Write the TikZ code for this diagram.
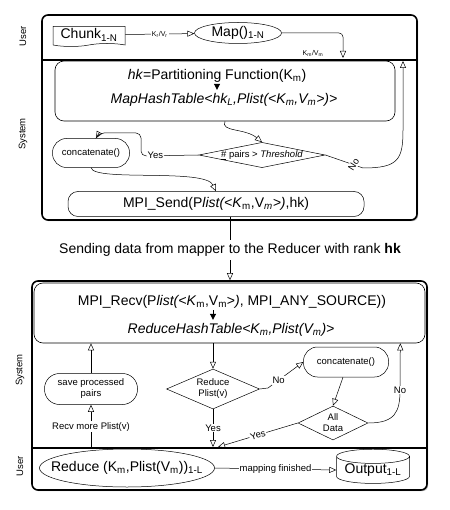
\documentclass[tikz,border=0pt]{standalone}
\usepackage{fontspec}
\setmainfont{Liberation Sans}
\usetikzlibrary{arrows.meta, positioning, shapes.geometric, shapes.symbols, shadows, calc}

\begin{document}
\begin{tikzpicture}[x=1pt, y=-1pt, line width=0.5pt,
  oa/.style={-{Triangle[open, length=7pt, width=6pt]}},
  fa/.style={-{Triangle[length=6pt, width=6pt]}},
  big/.style={font=\fontsize{14}{16}\selectfont},
  small/.style={font=\fontsize{9.5}{11}\selectfont},
  lane/.style={rotate=90, font=\fontsize{9.5}{11}\selectfont},
  lbl/.style={fill=white, inner sep=1pt, font=\fontsize{9.5}{11}\selectfont},
  tiny/.style={fill=white, inner sep=1pt, font=\fontsize{7}{8}\selectfont},
  panel/.style={draw, fill=white, line width=1.6pt, rounded corners=6pt, inner sep=0,
    drop shadow={shadow xshift=1.2pt, shadow yshift=-1.2pt, fill=black!55}},
  area/.style={draw, line width=0.6pt, rounded corners=9pt, inner sep=0},
  proc/.style={draw, rounded corners=14pt, inner sep=0, align=center, small},
  decide/.style={diamond, draw, inner sep=0, align=center, small}]
\useasboundingbox (0,0) rectangle (449,510);

% mapper side
\node[panel, minimum width=375, minimum height=205] (mapP) at (229.5,117.5) {};
\draw[line width=1.4pt] (mapP.west |- 0,60) -- (mapP.east |- 0,60);
\node[lane] (userA) at (23,36) {User};
\node[lane] (sysA) at (23,134) {System};

\node[tape, tape bend top=none, tape bend height=3pt, draw, big, inner sep=0,
  minimum width=72, minimum height=20] (chunk) at (89,35) {Chunk\textsubscript{1-N}};
\node[ellipse, draw, big, inner sep=0, minimum width=87, minimum height=21] (map) at (238,33) {Map()\textsubscript{1-N}};
\coordinate (mapout) at (343,58);
\draw[oa] (chunk) -- node[tiny]{K\textsubscript{r}/V\textsubscript{r}} (map);
\draw[oa, rounded corners=4pt] (map.east) -| (mapout);
\node[tiny, fill=none] (kmvm) at (313,53) {K\textsubscript{m}/V\textsubscript{m}};

\node[area, minimum width=340, minimum height=60] (partA) at (225,91) {};
\node[big] (hk) at (217,76) {\textit{hk}=Partitioning Function(K\textsubscript{m})};
\node[big] (mht) at (224,100) {\textit{MapHashTable<hk\textsubscript{L},Plist(<K\textsubscript{m},V\textsubscript{m}>)>}};
\draw[fa] (hk) -- (hk |- mht.north);

\node[decide, aspect=5, minimum width=124, minimum height=25] (pairs) at (262,155) {\underline{\#} pairs > \textit{Threshold}};
\node[proc, minimum width=77, minimum height=29] (catA) at (91,153) {concatenate()};
\node[draw, rounded corners=10pt, big, minimum width=296, minimum height=25, inner sep=0] (send) at (216,204)
  {MPI\_Send(P\textit{list(<K}\textsubscript{m},V\textsubscript{\textit{m}}\textit{>)},hk)};
\coordinate (noA) at (403,61);

\draw[oa] (partA.south) .. controls (220,132) and (245,128) .. (pairs.north);
\draw[oa, rounded corners=5pt] (pairs.west) -- node[lbl, pos=0.75]{Yes} (141,156) -- (141,133) -- (99,133) -- ([xshift=5pt]catA.north);
\draw[oa] (catA.south) .. controls (94,182) and (205,168) .. (send.north);
\draw[oa] (pairs.east) -- node[lbl, rotate=58, pos=0.75]{No} (363,168)
  .. controls (398,168) and (403,160) .. (403,130) -- (noA);

% between the two
\node[big] (sendtxt) at (230,250) {Sending data from mapper to the Reducer with rank \textbf{hk}};
\draw (send.south -| sendtxt.north) -- (sendtxt.north);

% reducer side
\node[panel, minimum width=395, minimum height=209] (redP) at (229.5,385.5) {};
\draw[line width=1.4pt] (redP.west |- 0,448) -- (redP.east |- 0,448);
\node[lane] (sysB) at (20,370) {System};
\node[lane] (userB) at (20,466) {User};

\node[area, minimum width=391, minimum height=60] (recv) at (229.5,313) {};
\draw[oa] (sendtxt.south) -- (sendtxt.south |- redP.north);
\node[big] (mrecv) at (232,302) {MPI\_Recv(P\textit{list(<K}\textsubscript{m},V\textsubscript{m}>\textit{)}, MPI\_ANY\_SOURCE))};
\node[big] (rht) at (231,330) {\textit{ReduceHashTable<K\textsubscript{m},Plist(V\textsubscript{m})>}};
\draw[fa] (213,310) -- (rht.north -| 213,0);

\node[proc, rounded corners=15pt, minimum width=93, minimum height=31] (save) at (91,389) {save processed\\pairs};
\node[decide, aspect=2.3, minimum width=93, minimum height=40] (rdc) at (213,389) {Reduce\\Plist(v)};
\node[proc, minimum width=85, minimum height=30] (catB) at (346,362) {concatenate()};
\node[decide, aspect=2, minimum width=70, minimum height=34] (all) at (333,423) {All\\Data};
\node[ellipse, draw, big, inner xsep=-14pt, inner ysep=0, minimum height=38] (red) at (127,468)
  {Reduce (K\textsubscript{m},Plist(V\textsubscript{m}))\textsubscript{1-L}};
\node[cylinder, shape border rotate=90, aspect=0.25, draw, big, inner sep=0,
  minimum width=73, minimum height=34] (out) at (373,470) {Output\textsubscript{1-L}};
\coordinate (join) at (213,447);

\draw[oa] (save.north) -- (save.north |- recv.south);
\draw[oa] (red.north -| save) -- node[lbl]{Recv more Plist(v)} (save.south);
\draw[oa] (recv.south -| rdc) -- (rdc.north);
\draw[oa] (rdc.east) -- (268,388) -- node[lbl, pos=0.3]{No} (catB.west);
\draw[oa] ([xshift=-3pt]catB.south) -- (all.north);
\draw[oa] (all.east) .. controls (395,423) and (400,412) .. (400,390) -- node[lbl, pos=0.0]{No} ([xshift=-25pt]recv.south east);
\draw[oa] (rdc.south) -- node[lbl, pos=0.5]{Yes} (join);
\draw[oa] (all.west) -- node[lbl, sloped]{Yes} ([xshift=5pt]join);
\draw[oa] (red.east) -- node[lbl]{mapping finished} (out.west);
\end{tikzpicture}
\end{document}
